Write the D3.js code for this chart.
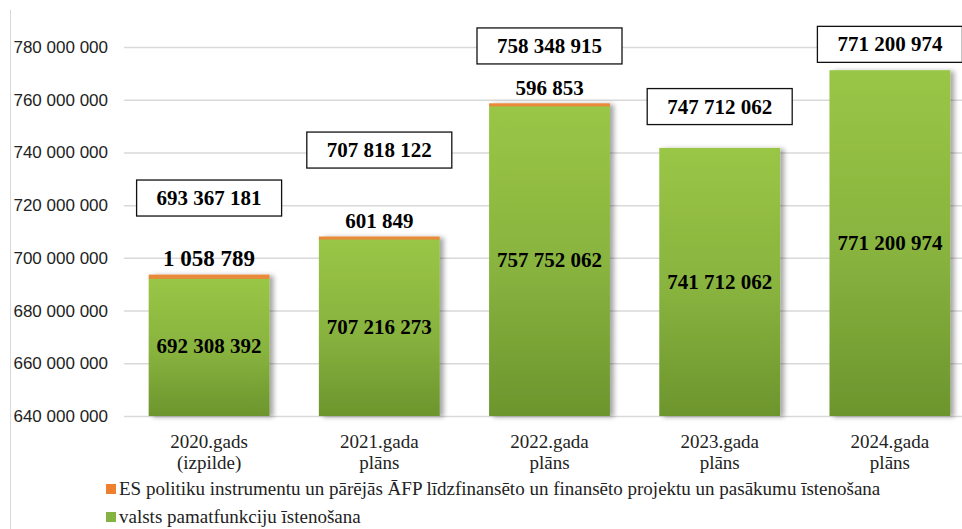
<!DOCTYPE html>
<html>
<head>
<meta charset="utf-8">
<script src="https://cdn.jsdelivr.net/npm/d3@7"></script>
<style>
  body { margin: 0; background: #fff; }
  svg { display: block; }
</style>
</head>
<body>
<div id="chart"></div>
<script>
// data
var years = ["2020", "2021", "2022", "2023", "2024"];
var catLine1 = ["2020.gads", "2021.gada", "2022.gada", "2023.gada", "2024.gada"];
var catLine2 = ["(izpilde)", "plāns", "plāns", "plāns", "plāns"];
var valsts = [692308392, 707216273, 757752062, 741712062, 771200974];
var es = [1058789, 601849, 596853, 0, 0];
var totals = [693367181, 707818122, 758348915, 747712062, 771200974];
var yTicks = [640000000, 660000000, 680000000, 700000000, 720000000, 740000000, 760000000, 780000000];
var seriesNames = ["ES politiku instrumentu un pārējās ĀFP līdzfinansēto un finansēto projektu un pasākumu īstenošana",
                   "valsts pamatfunkciju īstenošana"];

// where the total boxes sit (value level of their centre), placed by hand in the source
var boxLevel = [722700000, 740900000, 780400000, 757400000, 781000000];

var W = 962, H = 529;
var fmt = function(v) { return d3.format(",")(v).replace(/,/g, " "); };

var svg = d3.select("#chart").append("svg").attr("width", W).attr("height", H);
var defs = svg.append("defs");

var grad = defs.append("linearGradient").attr("id", "green").attr("x1", 0).attr("y1", 0).attr("x2", 0).attr("y2", 1);
grad.append("stop").attr("offset", "0%").attr("stop-color", "#9ac646");
grad.append("stop").attr("offset", "55%").attr("stop-color", "#87b23e");
grad.append("stop").attr("offset", "100%").attr("stop-color", "#6c952d");

var sh = defs.append("filter").attr("id", "shadow").attr("x", "-10%").attr("y", "-10%").attr("width", "130%").attr("height", "130%");
sh.append("feDropShadow").attr("dx", 4).attr("dy", 1).attr("stdDeviation", 2.5)
  .attr("flood-color", "#000").attr("flood-opacity", 0.35);

var x = d3.scaleBand().domain(years).range([124, 975]).paddingInner(0.29).paddingOuter(0.145);
var y = d3.scaleLinear().domain([640000000, 780000000]).range([416, 47]);

// chart border on the left
svg.append("line").attr("x1", 10.5).attr("x2", 10.5).attr("y1", 10).attr("y2", H)
  .attr("stroke", "#d9d9d9");

// grid + y labels
var yAxis = svg.append("g").attr("transform", "translate(124,0)")
  .call(d3.axisLeft(y).tickValues(yTicks).tickSize(-(W - 124)).tickPadding(16).tickFormat(fmt));
yAxis.select(".domain").remove();
yAxis.selectAll(".tick line").attr("stroke", "#d9d9d9").attr("stroke-width", 1.5);
yAxis.selectAll(".tick text").attr("fill", "#222").style("font-family", "'Liberation Sans', Arial, sans-serif").style("font-size", "17px");

// bars
var bars = svg.append("g");
years.forEach(function(yr, i) {
  var g = bars.append("g").attr("filter", "url(#shadow)");
  g.append("rect")
    .attr("x", x(yr)).attr("width", x.bandwidth())
    .attr("y", y(valsts[i])).attr("height", y(640000000) - y(valsts[i]))
    .attr("fill", "url(#green)");
  if (es[i] > 0) {
    g.append("rect")
      .attr("x", x(yr) + 0.75).attr("width", x.bandwidth() - 1.5)
      .attr("y", y(valsts[i] + es[i])).attr("height", y(valsts[i]) - y(valsts[i] + es[i]))
      .attr("fill", "#e9893a").attr("stroke", "#e9893a").attr("stroke-width", 1.5);
  }
});

var serif = "'Liberation Serif', 'Times New Roman', serif";

// value labels inside green
svg.append("g").selectAll("text").data(years).join("text")
  .attr("x", function(d) { return x(d) + x.bandwidth() / 2; })
  .attr("y", function(d, i) { return (y(valsts[i] + es[i]) + y(640000000)) / 2 + 7; })
  .attr("text-anchor", "middle")
  .style("font-family", serif).style("font-size", "21px").style("font-weight", "bold")
  .text(function(d, i) { return fmt(valsts[i]); });

// orange labels above the bar
svg.append("g").selectAll("text").data(years.filter(function(d, i) { return es[i] > 0; })).join("text")
  .attr("x", function(d) { return x(d) + x.bandwidth() / 2; })
  .attr("y", function(d) { var i = years.indexOf(d); return y(valsts[i] + es[i]) - 9; })
  .attr("text-anchor", "middle")
  .style("font-family", serif).style("font-weight", "bold")
  .style("font-size", function(d) { return d === "2020" ? "23px" : "21px"; })
  .text(function(d) { var i = years.indexOf(d); return fmt(es[i]); });

// total boxes
var boxes = svg.append("g").selectAll("g").data(years).join("g")
  .attr("transform", function(d, i) { return "translate(" + (x(d) + x.bandwidth() / 2) + "," + y(boxLevel[i]) + ")"; });
var bt = boxes.append("text").attr("text-anchor", "middle").attr("y", 7)
  .style("font-family", serif).style("font-size", "21px").style("font-weight", "bold")
  .text(function(d, i) { return fmt(totals[i]); });
boxes.each(function() {
  var g = d3.select(this);
  var w = g.select("text").node().getComputedTextLength() + 40;
  g.insert("rect", "text").attr("x", -w / 2).attr("y", -18).attr("width", w).attr("height", 36)
    .attr("fill", "#fff").attr("stroke", "#111").attr("stroke-width", 1.3);
});

// category labels
var cats = svg.append("g").selectAll("text").data(years).join("text")
  .attr("text-anchor", "middle")
  .attr("transform", function(d) { return "translate(" + (x(d) + x.bandwidth() / 2) + ",448)"; })
  .style("font-family", serif).style("font-size", "19px").attr("fill", "#222");
cats.append("tspan").attr("x", 0).attr("dy", 0).text(function(d, i) { return catLine1[i]; });
cats.append("tspan").attr("x", 0).attr("dy", 21).text(function(d, i) { return catLine2[i]; });

// legend
var legColors = ["#ee8030", "#84b341"];
var leg = svg.append("g").selectAll("g").data(seriesNames).join("g")
  .attr("transform", function(d, i) { return "translate(106," + (484 + i * 28) + ")"; });
leg.append("rect").attr("width", 10).attr("height", 10).attr("fill", function(d, i) { return legColors[i]; });
leg.append("text").attr("x", 13).attr("y", 11)
  .style("font-family", serif).style("font-size", "19px").attr("fill", "#222")
  .text(function(d) { return d; });
</script>
</body>
</html>
